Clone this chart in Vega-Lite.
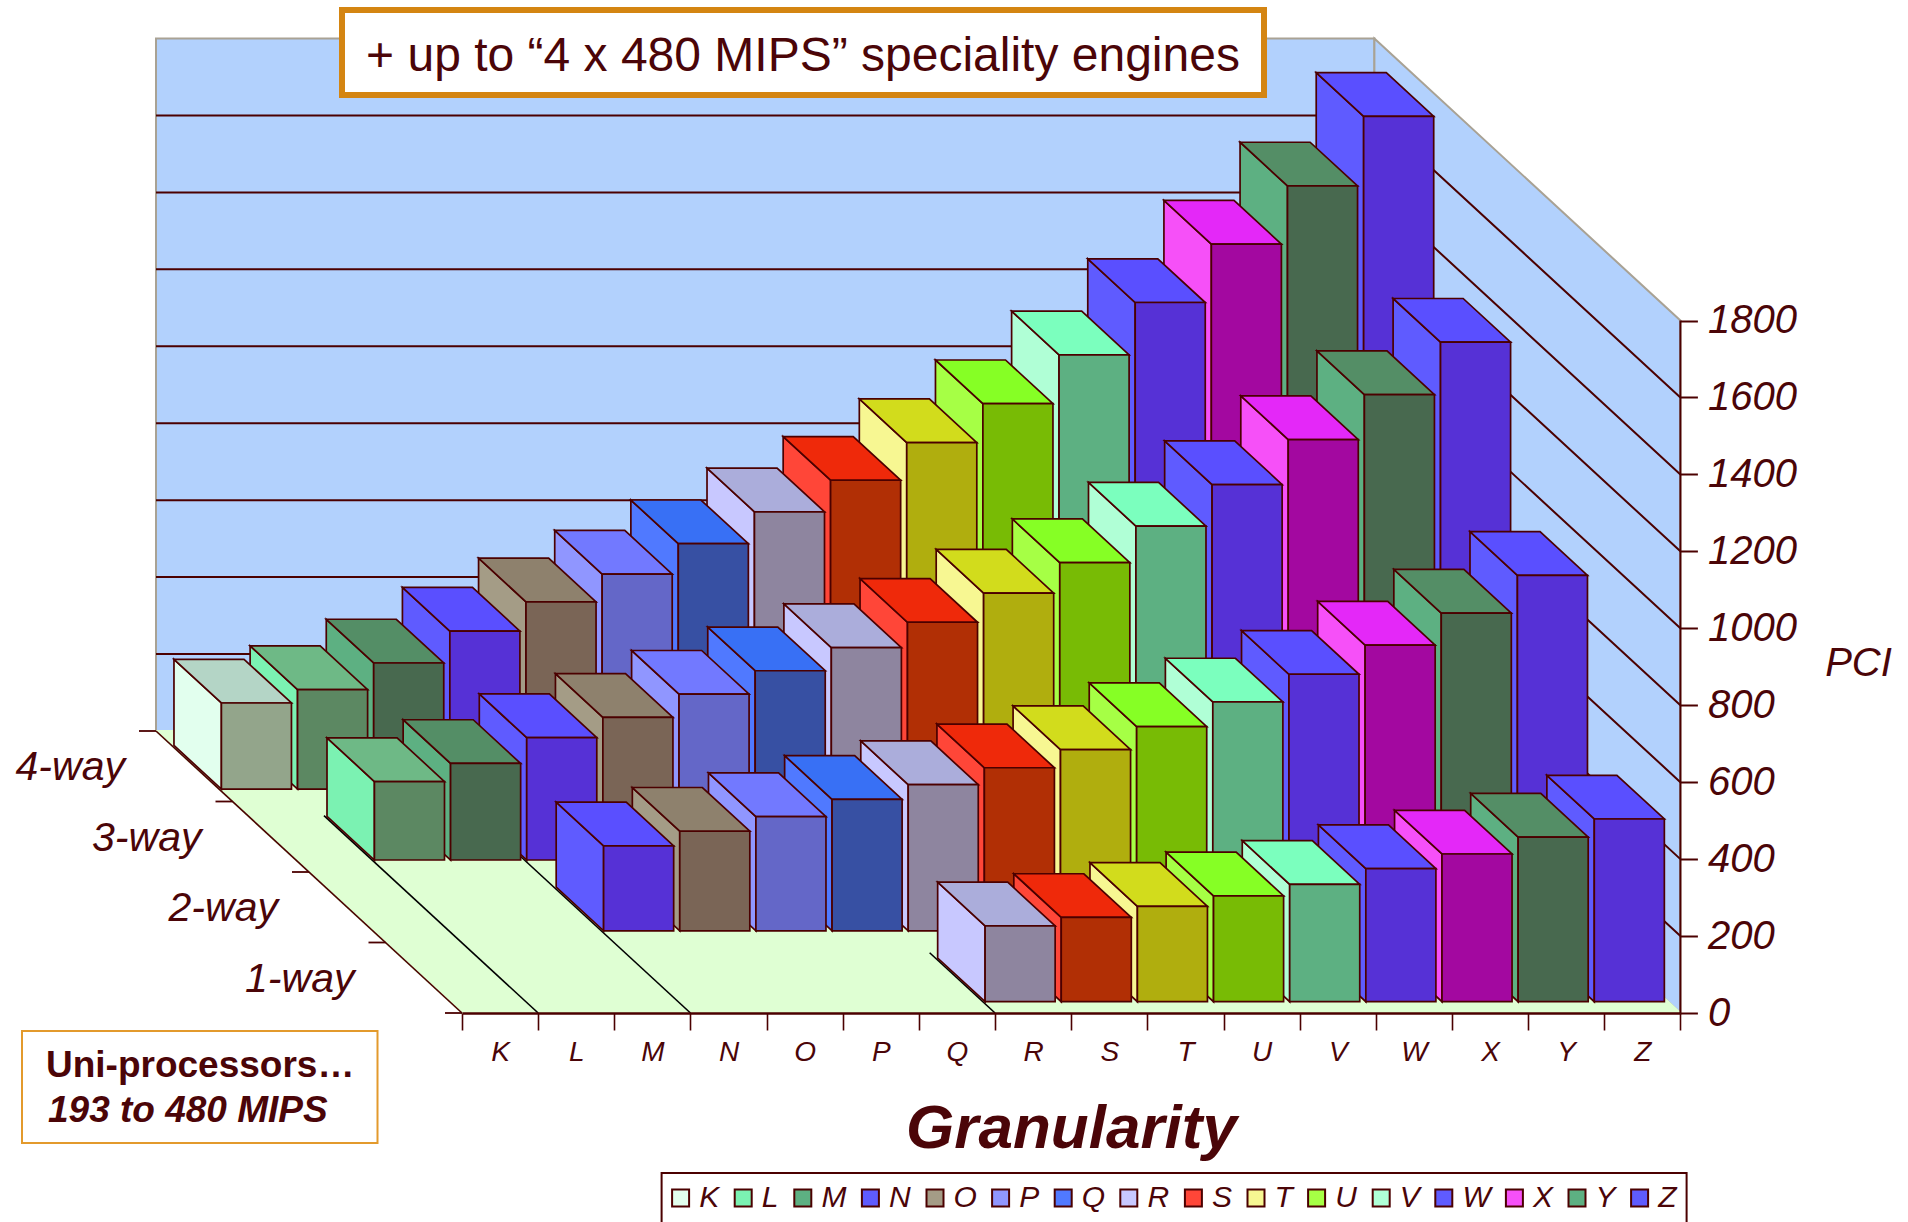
{"$schema":"https://vega.github.io/schema/vega-lite/v6.json","width":1908,"height":1222,"padding":0,"autosize":{"type":"none"},"background":"white","config":{"view":{"stroke":null},"legend":{"strokeWidth":2}},
"resolve":{"scale":{"x":"independent","y":"independent","fill":"independent","stroke":"independent","color":"independent"}},
"layer":[
{"data":{"values":[{"surface":"back","c":0,"d":4,"dU":4,"dL":4,"vU":1800,"vL":0},{"surface":"back","c":16,"d":4,"dU":4,"dL":4,"vU":1800,"vL":0},{"surface":"side","c":16,"d":4,"dU":4,"dL":4,"vU":1800,"vL":0},{"surface":"side","c":16,"d":0,"dU":0,"dL":0,"vU":1800,"vL":0},{"surface":"floor","c":0,"d":4,"dU":4,"dL":4,"vU":0,"vL":0},{"surface":"floor","c":0,"d":0,"dU":4,"dL":0,"vU":0,"vL":0},{"surface":"floor","c":16,"d":4,"dU":4,"dL":0,"vU":0,"vL":0},{"surface":"floor","c":16,"d":0,"dU":0,"dL":0,"vU":0,"vL":0}]},
"transform":[{"calculate":"462+76.15*datum.c-76.5*datum.d","as":"px"},{"calculate":"1013-70.5*datum.dU-0.3847*datum.vU","as":"yU"},{"calculate":"1013-70.5*datum.dL-0.3847*datum.vL","as":"yL"}],
"mark":{"type":"area","orient":"vertical","strokeWidth":2},
"encoding":{"x":{"field":"px","type":"quantitative","scale":{"domain":[0,1908],"range":[0,1908]},"axis":null},"y":{"field":"yU","type":"quantitative","stack":null,"scale":{"domain":[0,1222],"range":[0,1222]},"axis":null},"y2":{"field":"yL"},"detail":{"field":"surface"},"fill":{"field":"surface","type":"nominal","legend":null,"scale":{"domain":["back","side","floor"],"range":["#B2D1FD","#B2D1FD","#DFFFD3"]}},"stroke":{"field":"surface","type":"nominal","legend":null,"scale":{"domain":["back","side","floor"],"range":["#A9A294","#A9A294","#DFFFD3"]}}}},
{"data":{"values":[{"pci":200},{"pci":400},{"pci":600},{"pci":800},{"pci":1000},{"pci":1200},{"pci":1400},{"pci":1600}]},
"transform":[{"calculate":"[0,1,2]","as":"node"},{"flatten":["node"]},{"calculate":"datum.node===0?0:16","as":"c"},{"calculate":"datum.node===2?0:4","as":"d"},{"calculate":"462+76.15*datum.c-76.5*datum.d","as":"px"},{"calculate":"1013-70.5*datum.d-0.3847*datum.pci","as":"py"}],
"mark":{"type":"line","stroke":"#4B0000","strokeWidth":2},
"encoding":{"x":{"field":"px","type":"quantitative","scale":{"domain":[0,1908],"range":[0,1908]},"axis":null},"y":{"field":"py","type":"quantitative","scale":{"domain":[0,1222],"range":[0,1222]},"axis":null},"detail":{"field":"pci"}}},
{"data":{"values":[{"c":0,"dEnd":4,"edge":"floor edge"},{"c":1,"dEnd":2.8,"edge":"row start"},{"c":3,"dEnd":2.22,"edge":"row start"},{"c":7,"dEnd":0.855,"edge":"row start"}]},
"transform":[{"calculate":"[0,1]","as":"node"},{"flatten":["node"]},{"calculate":"datum.node===0?datum.dEnd:0","as":"d"},{"calculate":"462+76.15*datum.c-76.5*datum.d","as":"px"},{"calculate":"1013-70.5*datum.d","as":"py"}],
"mark":{"type":"line","strokeWidth":1.6},
"encoding":{"x":{"field":"px","type":"quantitative","scale":{"domain":[0,1908],"range":[0,1908]},"axis":null},"y":{"field":"py","type":"quantitative","scale":{"domain":[0,1222],"range":[0,1222]},"axis":null},"detail":{"field":"c"},"stroke":{"field":"edge","type":"nominal","legend":null,"scale":{"domain":["floor edge","row start"],"range":["#4B0000","#000000"]}}}},
{"data":{"values":[{"d":0},{"d":1},{"d":2},{"d":3},{"d":4}]},
"transform":[{"calculate":"462-76.5*datum.d","as":"px"},{"calculate":"datum.px-17","as":"pxEnd"},{"calculate":"1013-70.5*datum.d","as":"py"}],
"mark":{"type":"rule","stroke":"#4B0000","strokeWidth":1.8},
"encoding":{"x":{"field":"px","type":"quantitative","scale":{"domain":[0,1908],"range":[0,1908]},"axis":null},"x2":{"field":"pxEnd"},"y":{"field":"py","type":"quantitative","scale":{"domain":[0,1222],"range":[0,1222]},"axis":null}}},
{"data":{"values":[{"from":0,"to":1800}]},
"transform":[{"calculate":"462+76.15*16","as":"px"}],
"mark":{"type":"rule","stroke":"#4B0000","strokeWidth":2},
"encoding":{"x":{"field":"px","type":"quantitative","scale":{"domain":[0,1908],"range":[0,1908]},"axis":null},
"y":{"field":"from","type":"quantitative","scale":{"domain":[-543.28,2633.23],"range":[1222,0],"nice":false,"zero":false},"axis":{"orient":"right","offset":-227.6,"values":[0,200,400,600,800,1000,1200,1400,1600,1800],"domain":false,"grid":false,"ticks":true,"tickSize":17,"tickWidth":2,"tickColor":"#4B0000","labelFont":"Liberation Sans","labelFontStyle":"italic","labelFontSize":40,"labelColor":"#4B0508","labelPadding":10,"labelOverlap":false,"labelFlush":false,"format":"d","title":"PCI","titleFont":"Liberation Sans","titleFontStyle":"italic","titleFontWeight":"normal","titleFontSize":40,"titleColor":"#4B0508","titleAngle":0,"titleX":177.6,"titleY":663,"titleAlign":"center","titleBaseline":"middle","zindex":1}},"y2":{"field":"to"}}},
{"data":{"values":[{"gran":"K"},{"gran":"L"},{"gran":"M"},{"gran":"N"},{"gran":"O"},{"gran":"P"},{"gran":"Q"},{"gran":"R"},{"gran":"S"},{"gran":"T"},{"gran":"U"},{"gran":"V"},{"gran":"W"},{"gran":"X"},{"gran":"Y"},{"gran":"Z"}]},
"mark":{"type":"point","filled":true,"opacity":0},
"encoding":{"x":{"field":"gran","type":"nominal","sort":null,"scale":{"type":"band","domain":["K","L","M","N","O","P","Q","R","S","T","U","V","W","X","Y","Z"],"range":[462,1680.4],"paddingInner":0,"paddingOuter":0},"axis":{"orient":"bottom","offset":-209,"labelAngle":0,"tickBand":"extent","domain":true,"domainColor":"#4B0000","domainWidth":2.5,"grid":false,"tickSize":17,"tickWidth":1.6,"tickColor":"#4B0000","labelFont":"Liberation Sans","labelFontStyle":"italic","labelFontSize":28,"labelColor":"#4B0508","labelPadding":8,"title":"Granularity","titleFont":"Liberation Sans","titleFontStyle":"italic","titleFontWeight":"bold","titleFontSize":62,"titleColor":"#4B0508","titleX":1071,"titleY":134,"titleAlign":"center","titleBaseline":"alphabetic","zindex":1}},
"color":{"field":"gran","type":"nominal","scale":{"domain":["K","L","M","N","O","P","Q","R","S","T","U","V","W","X","Y","Z"],"range":["#E2FFEE","#7BF2B2","#5DB082","#5F5BFF","#A49C86","#9096FF","#5079FF","#C8C8FF","#FF4638","#F7F792","#A6FF45","#B0FFD6","#5F5BFF","#F650F8","#5DB082","#5F5BFF"]},"legend":{"orient":"none","legendX":661.6,"legendY":1173,"direction":"horizontal","columns":16,"gridAlign":"none","title":null,"symbolType":"square","symbolSize":289,"symbolStrokeColor":"#4B0000","symbolStrokeWidth":2,"symbolOpacity":1,"symbolOffset":-6,"labelFont":"Liberation Sans","labelFontStyle":"italic","labelFontSize":30,"labelColor":"#4B0508","labelOffset":3.6,"columnPadding":10.6,"padding":10,"strokeColor":"#4B0000","fillColor":"#FFFFFF"}}}},
{"data":{"values":[
{"way":"4-way","gran":"Z","pci":1749},{"way":"4-way","gran":"Y","pci":1568},{"way":"4-way","gran":"X","pci":1417},{"way":"4-way","gran":"W","pci":1265},{"way":"4-way","gran":"V","pci":1129},{"way":"4-way","gran":"U","pci":1002},{"way":"4-way","gran":"T","pci":901},{"way":"4-way","gran":"S","pci":803},{"way":"4-way","gran":"R","pci":721},{"way":"4-way","gran":"Q","pci":638},{"way":"4-way","gran":"P","pci":559},{"way":"4-way","gran":"O","pci":487},{"way":"4-way","gran":"N","pci":411},{"way":"4-way","gran":"M","pci":328},{"way":"4-way","gran":"L","pci":259},{"way":"4-way","gran":"K","pci":224},
{"way":"3-way","gran":"Z","pci":1346},{"way":"3-way","gran":"Y","pci":1210},{"way":"3-way","gran":"X","pci":1093},{"way":"3-way","gran":"W","pci":976},{"way":"3-way","gran":"V","pci":868},{"way":"3-way","gran":"U","pci":773},{"way":"3-way","gran":"T","pci":694},{"way":"3-way","gran":"S","pci":618},{"way":"3-way","gran":"R","pci":552},{"way":"3-way","gran":"Q","pci":492},{"way":"3-way","gran":"P","pci":431},{"way":"3-way","gran":"O","pci":371},{"way":"3-way","gran":"N","pci":318},{"way":"3-way","gran":"M","pci":251},{"way":"3-way","gran":"L","pci":204},
{"way":"2-way","gran":"Z","pci":924},{"way":"2-way","gran":"Y","pci":826},{"way":"2-way","gran":"X","pci":743},{"way":"2-way","gran":"W","pci":667},{"way":"2-way","gran":"V","pci":595},{"way":"2-way","gran":"U","pci":531},{"way":"2-way","gran":"T","pci":471},{"way":"2-way","gran":"S","pci":424},{"way":"2-way","gran":"R","pci":380},{"way":"2-way","gran":"Q","pci":342},{"way":"2-way","gran":"P","pci":297},{"way":"2-way","gran":"O","pci":259},{"way":"2-way","gran":"N","pci":221},
{"way":"1-way","gran":"Z","pci":475},{"way":"1-way","gran":"Y","pci":428},{"way":"1-way","gran":"X","pci":384},{"way":"1-way","gran":"W","pci":346},{"way":"1-way","gran":"V","pci":305},{"way":"1-way","gran":"U","pci":275},{"way":"1-way","gran":"T","pci":248},{"way":"1-way","gran":"S","pci":219},{"way":"1-way","gran":"R","pci":197}
]},
"transform":[
{"calculate":"indexof('KLMNOPQRSTUVWXYZ',datum.gran)","as":"col"},
{"calculate":"toNumber(substring(datum.way,0,1))-1","as":"rowIdx"},
{"calculate":"['side','top','front']","as":"face"},
{"flatten":["face"]},
{"calculate":"datum.face==='top'?[0,1,2,3]:[0,1]","as":"pt"},
{"flatten":["pt"]},
{"calculate":"datum.col+0.03","as":"cL"},
{"calculate":"datum.cL+0.92","as":"cR"},
{"calculate":"0.16+1.005*datum.rowIdx","as":"dF"},
{"calculate":"datum.dF+0.62","as":"dB"},
{"calculate":"datum.face==='side'?datum.cL:datum.face==='front'?(datum.pt===0?datum.cL:datum.cR):(datum.pt<2?datum.cL:datum.cR)","as":"pc"},
{"calculate":"datum.face==='side'?(datum.pt===0?datum.dB:datum.dF):datum.face==='front'?datum.dF:(datum.pt%2===0?datum.dB:datum.dF)","as":"pd"},
{"calculate":"462+76.15*datum.pc-76.5*datum.pd","as":"px"},
{"calculate":"datum.face==='top'?(1013-70.5*(datum.pt<3?datum.dB:datum.dF)-0.3847*datum.pci):(1013-70.5*datum.pd-0.3847*datum.pci)","as":"yU"},
{"calculate":"datum.face==='top'?(1013-70.5*(datum.pt===0?datum.dB:datum.dF)-0.3847*datum.pci):(1013-70.5*datum.pd)","as":"yL"},
{"calculate":"datum.way+datum.gran+datum.face","as":"faceId"},
{"calculate":"datum.gran+'|'+datum.face","as":"fillKey"}
],
"mark":{"type":"area","orient":"vertical","stroke":"#4B0000","strokeWidth":1.7},
"encoding":{"x":{"field":"px","type":"quantitative","scale":{"domain":[0,1908],"range":[0,1908]},"axis":null},"y":{"field":"yU","type":"quantitative","stack":null,"scale":{"domain":[0,1222],"range":[0,1222]},"axis":null},"y2":{"field":"yL"},"detail":{"field":"faceId"},
"fill":{"field":"fillKey","type":"nominal","legend":null,"scale":{"domain":["K|side","K|top","K|front","L|side","L|top","L|front","M|side","M|top","M|front","N|side","N|top","N|front","O|side","O|top","O|front","P|side","P|top","P|front","Q|side","Q|top","Q|front","R|side","R|top","R|front","S|side","S|top","S|front","T|side","T|top","T|front","U|side","U|top","U|front","V|side","V|top","V|front","W|side","W|top","W|front","X|side","X|top","X|front","Y|side","Y|top","Y|front","Z|side","Z|top","Z|front"],
"range":["#E2FFEE","#B4D5C6","#93A58B","#7BF2B2","#6EB986","#5C8862","#5DB082","#548E66","#48694F","#5F5BFF","#5A4FFF","#5631D6","#A49C86","#8E816D","#7A6556","#9096FF","#7279FF","#6467C8","#5079FF","#3870F5","#3750A3","#C8C8FF","#ABADDB","#8E859F","#FF4638","#EF290A","#B12F05","#F7F792","#D2DC1C","#B0AE0E","#A6FF45","#86FF25","#78BB05","#B0FFD6","#7BFFBE","#5DB082","#5F5BFF","#5A4FFF","#5631D6","#F650F8","#E428F8","#A308A0","#5DB082","#548E66","#48694F","#5F5BFF","#5A4FFF","#5631D6"]}}}},
{"data":{"values":[{"way":"1-way"},{"way":"2-way"},{"way":"3-way"},{"way":"4-way"}]},
"transform":[{"calculate":"toNumber(substring(datum.way,0,1))-0.5","as":"d"},{"calculate":"462-76.5*datum.d-124","as":"px"},{"calculate":"1015-70.5*datum.d","as":"py"}],
"mark":{"type":"text","font":"Liberation Sans","fontStyle":"italic","fontSize":41,"color":"#4B0508","align":"center","baseline":"middle"},
"encoding":{"x":{"field":"px","type":"quantitative","scale":{"domain":[0,1908],"range":[0,1908]},"axis":null},"y":{"field":"py","type":"quantitative","scale":{"domain":[0,1222],"range":[0,1222]},"axis":null},"text":{"field":"way"}}},
{"data":{"values":[{"note":"top"}]},"mark":{"type":"rect","fill":"#FFFFFF","stroke":"#D48512","strokeWidth":6},"encoding":{"x":{"value":342},"x2":{"value":1264},"y":{"value":10},"y2":{"value":95}}},
{"data":{"values":[{"note":"+ up to “4 x 480 MIPS” speciality engines"}]},"mark":{"type":"text","font":"Liberation Sans","fontSize":48,"color":"#4B0508","align":"center","baseline":"alphabetic"},"encoding":{"x":{"value":803},"y":{"value":71},"text":{"field":"note"}}},
{"data":{"values":[{"note":"box"}]},"mark":{"type":"rect","fill":"#FFFFFF","stroke":"#E39A2C","strokeWidth":2},"encoding":{"x":{"value":22},"x2":{"value":377.5},"y":{"value":1031},"y2":{"value":1143}}},
{"data":{"values":[{"note":"Uni-processors…"}]},"mark":{"type":"text","font":"Liberation Sans","fontSize":37,"fontWeight":"bold","color":"#4B0508","align":"left","baseline":"alphabetic"},"encoding":{"x":{"value":46},"y":{"value":1077},"text":{"field":"note"}}},
{"data":{"values":[{"note":"193 to 480 MIPS"}]},"mark":{"type":"text","font":"Liberation Sans","fontSize":37,"fontWeight":"bold","fontStyle":"italic","color":"#4B0508","align":"left","baseline":"alphabetic"},"encoding":{"x":{"value":48},"y":{"value":1122},"text":{"field":"note"}}}
]}
